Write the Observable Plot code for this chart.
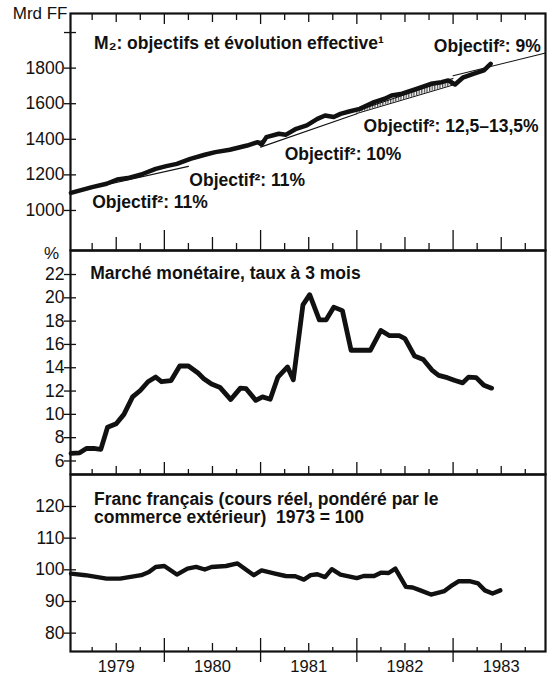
<!DOCTYPE html>
<html>
<head>
<meta charset="utf-8">
<script src="https://cdn.jsdelivr.net/npm/d3@7"></script>
<script src="https://cdn.jsdelivr.net/npm/@observablehq/plot@0.6"></script>
<style>
  body { margin: 0; background: #fff; }
  #chart { position: relative; width: 553px; height: 677px; background: #fff; }
  #chart > svg { position: absolute; left: 0; top: 0; }
</style>
</head>
<body>
<svg width="0" height="0" style="position:absolute">
  <defs>
    <pattern id="hatch" width="2.6" height="6" patternUnits="userSpaceOnUse">
      <line x1="0.7" y1="0" x2="0.7" y2="6" stroke="#000" stroke-width="0.9"></line>
    </pattern>
  </defs>
</svg>
<div id="chart"></div>
<script>
// ---------- data ----------
const years = [1979, 1980, 1981, 1982, 1983];
const xDomain = [1979.025, 1983.96];

// Panel 1: M2 (Mrd FF), actual evolution
const m2Date = [1979.03, 1979.25, 1979.40, 1979.51, 1979.62, 1979.76, 1979.91, 1980.02, 1980.13, 1980.27,
  1980.42, 1980.53, 1980.68, 1980.86, 1980.97, 1981.01, 1981.06, 1981.19, 1981.26, 1981.37,
  1981.48, 1981.59, 1981.67, 1981.76, 1981.83, 1981.92, 1982.03, 1982.18, 1982.29, 1982.36,
  1982.47, 1982.62, 1982.77, 1982.88, 1982.95, 1983.02, 1983.10, 1983.21, 1983.32, 1983.39];
const m2Value = [1099, 1131, 1150, 1174, 1182, 1202, 1234, 1249, 1262, 1290,
  1313, 1328, 1341, 1365, 1384, 1371, 1412, 1431, 1425, 1459,
  1478, 1515, 1534, 1525, 1543, 1556, 1571, 1609, 1628, 1646,
  1656, 1684, 1712, 1721, 1731, 1708, 1746, 1768, 1787, 1824];

// Panel 1: target lines (objectifs)
const targetId    = ["1979", "1979", "1980", "1980", "1981", "1981", "1983", "1983"];
const targetDate  = [1979.025, 1980.25, 1980.0, 1981.03, 1981.0, 1982.0, 1983.0, 1983.96];
const targetValue = [1100, 1248, 1245, 1395, 1356, 1544, 1757, 1885];

// Panel 1: 1982 target corridor (12,5–13,5 %)
const corridorDate = [1982.0, 1983.0];
const corridorLow  = [1545, 1705];
const corridorHigh = [1560, 1742];

const m2Ticks = [1000, 1200, 1400, 1600, 1800];
const m2MinorTicks = [2000];

const m2LabelText  = ["M\u2082: objectifs et \u00e9volution effective\u00b9", "Objectif\u00b2: 11%", "Objectif\u00b2: 11%",
  "Objectif\u00b2: 10%", "Objectif\u00b2: 12,5\u201313,5%", "Objectif\u00b2: 9%"];
const m2LabelDate  = [1979.27, 1979.25, 1980.26, 1981.25, 1982.07, 1982.80];
const m2LabelValue = [1937, 1047, 1169, 1315, 1472, 1922];

// Panel 2: money market, 3-month rate (%)
const rateDate = [1979.03, 1979.12, 1979.19, 1979.28, 1979.34, 1979.41, 1979.50, 1979.58, 1979.67, 1979.75,
  1979.83, 1979.91, 1979.97, 1980.07, 1980.16, 1980.25, 1980.35, 1980.41, 1980.49, 1980.58,
  1980.69, 1980.79, 1980.85, 1980.95, 1981.02, 1981.10, 1981.18, 1981.28, 1981.34, 1981.44,
  1981.51, 1981.61, 1981.68, 1981.76, 1981.85, 1981.94, 1982.14, 1982.25, 1982.34, 1982.44,
  1982.50, 1982.60, 1982.69, 1982.78, 1982.85, 1982.94, 1983.02, 1983.10, 1983.16, 1983.24,
  1983.32, 1983.40];
const rateValue = [6.66, 6.7, 7.07, 7.07, 7.0, 8.9, 9.2, 10.0, 11.5, 12.05,
  12.8, 13.2, 12.8, 12.9, 14.15, 14.15, 13.55, 13.06, 12.6, 12.3,
  11.27, 12.25, 12.2, 11.2, 11.5, 11.3, 13.2, 14.07, 12.97, 19.4,
  20.27, 18.1, 18.1, 19.2, 18.9, 15.5, 15.5, 17.2, 16.75, 16.75,
  16.5, 15.0, 14.7, 13.8, 13.35, 13.15, 12.9, 12.7, 13.2, 13.15,
  12.5, 12.25];
const rateTicks = [6, 8, 10, 12, 14, 16, 18, 20, 22];
const rateTitle = ["March\u00e9 mon\u00e9taire, taux \u00e0 3 mois"];
const rateTitleDate = [1979.23];
const rateTitleValue = [22.1];

// Panel 3: French franc, real effective rate (1973 = 100)
const francDate = [1979.03, 1979.18, 1979.40, 1979.54, 1979.76, 1979.84, 1979.91, 1980.00, 1980.13, 1980.24,
  1980.33, 1980.42, 1980.49, 1980.64, 1980.76, 1980.93, 1981.01, 1981.15, 1981.26, 1981.36,
  1981.45, 1981.52, 1981.59, 1981.67, 1981.74, 1981.83, 1982.00, 1982.07, 1982.18, 1982.25,
  1982.33, 1982.40, 1982.51, 1982.58, 1982.66, 1982.77, 1982.91, 1982.99, 1983.06, 1983.17,
  1983.26, 1983.33, 1983.41, 1983.49];
const francValue = [98.8, 98.3, 97.2, 97.2, 98.3, 99.3, 100.9, 101.2, 98.5, 100.4,
  100.9, 100.1, 100.9, 101.2, 102.0, 98.3, 99.8, 98.8, 98.05, 97.95,
  96.9, 98.3, 98.6, 97.7, 100.2, 98.5, 97.4, 98.05, 98.05, 99.1,
  99.0, 100.4, 94.6, 94.4, 93.5, 92.2, 93.3, 95.1, 96.4, 96.4,
  95.7, 93.5, 92.5, 93.5];
const francTicks = [80, 90, 100, 110, 120];
const francTitle = ["Franc fran\u00e7ais (cours r\u00e9el, pond\u00e9r\u00e9 par le", "commerce ext\u00e9rieur)  1973 = 100"];
const francTitleDate = [1979.27, 1979.27];
const francTitleValue = [122.2, 116.5];

// ---------- derived tick positions ----------
const yearTicks = years.slice(1);
const halfTicks = years.map(y => y + 0.5);
const quarterTicks = years.flatMap(y => [y + 0.25, y + 0.75]);

// ---------- helpers ----------
const W = 553, H = 677, ML = 70, MR = 8;
const FONT = "'Liberation Sans', Arial, Helvetica, sans-serif";
const INK = "#111";
const TITLE_SIZE = 17.5;
const zip = (xs, ys) => xs.map((x, i) => ({date: x, value: ys[i]}));

function xTicks(anchor, ticks, size, extra = {}) {
  return Plot.axisX({anchor, ticks, tickSize: size, fill: "none", label: null, stroke: INK, strokeWidth: 1.3, ...extra});
}
function yAxis(ticks, fmt) {
  return [
    Plot.axisY({ticks, tickSize: 12, dx: 6, tickPadding: 0, tickFormat: fmt, label: null,
      stroke: INK, strokeWidth: 1.3, fill: INK, fontSize: 17.5})
  ];
}
function base(top, bottom, yDomain, marks) {
  return Plot.plot({
    width: W, height: H,
    marginLeft: ML, marginRight: MR, marginTop: top, marginBottom: H - bottom,
    x: {domain: xDomain, label: null},
    y: {domain: yDomain, label: null},
    style: {fontFamily: FONT, fontSize: "17px", background: "transparent", color: INK, overflow: "visible"},
    marks
  });
}

// ---------- panel 1 ----------
const m2 = zip(m2Date, m2Value);
const targets = targetDate.map((d, i) => ({date: d, value: targetValue[i], id: targetId[i]}));
const corridor = corridorDate.map((d, i) => ({date: d, low: corridorLow[i], high: corridorHigh[i]}));
const m2Labels = m2LabelText.map((t, i) => ({text: t, date: m2LabelDate[i], value: m2LabelValue[i]}));

const p1 = base(13, 250, [775, 2107], [
  Plot.areaY(corridor, {x: "date", y1: "low", y2: "high", fill: "url(#hatch)"}),
  Plot.line(corridor, {x: "date", y: "low", stroke: INK, strokeWidth: 1}),
  Plot.line(corridor, {x: "date", y: "high", stroke: INK, strokeWidth: 1}),
  Plot.line(targets, {x: "date", y: "value", z: "id", stroke: INK, strokeWidth: 1.1}),
  Plot.line(m2, {x: "date", y: "value", stroke: INK, strokeWidth: 4.5, strokeLinejoin: "round", strokeLinecap: "round"}),
  Plot.text(m2Labels, {x: "date", y: "value", text: "text", textAnchor: "start", fontSize: TITLE_SIZE, fontWeight: "bold", fill: INK}),
  Plot.text(["Mrd FF"], {frameAnchor: "top-left", textAnchor: "end", lineAnchor: "middle", dx: -3, fontSize: 17, fill: INK}),
  ...yAxis(m2Ticks, d => String(d)),
  Plot.axisY({ticks: m2MinorTicks, tickSize: 12, dx: 6, fill: "none", label: null, stroke: INK, strokeWidth: 1.3}),
  xTicks("top", yearTicks, -10), xTicks("top", halfTicks, -8), xTicks("top", quarterTicks, -6),
  xTicks("bottom", yearTicks, -20), xTicks("bottom", halfTicks, -13), xTicks("bottom", quarterTicks, -7),
  Plot.frame({stroke: INK, strokeWidth: 2.2})
]);

// ---------- panel 2 ----------
const rate = zip(rateDate, rateValue);
const rateLabels = rateTitle.map((t, i) => ({text: t, date: rateTitleDate[i], value: rateTitleValue[i]}));
const p2 = base(250, 474, [4.84, 24.06], [
  Plot.line(rate, {x: "date", y: "value", stroke: INK, strokeWidth: 4.8, strokeLinejoin: "round", strokeLinecap: "round"}),
  Plot.text(rateLabels, {x: "date", y: "value", text: "text", textAnchor: "start", fontSize: TITLE_SIZE, fontWeight: "bold", fill: INK}),
  Plot.text(["%"], {frameAnchor: "top-left", textAnchor: "middle", lineAnchor: "middle", dx: -19, dy: 3, fontSize: 17, fill: INK}),
  ...yAxis(rateTicks, d => String(d)),
  xTicks("bottom", yearTicks, -12), xTicks("bottom", halfTicks, -8), xTicks("bottom", quarterTicks, -5),
  Plot.frame({stroke: INK, strokeWidth: 2.2})
]);

// ---------- panel 3 ----------
const franc = zip(francDate, francValue);
const francLabels = francTitle.map((t, i) => ({text: t, date: francTitleDate[i], value: francTitleValue[i]}));
const p3 = base(474, 651, [74.2, 130.1], [
  Plot.line(franc, {x: "date", y: "value", stroke: INK, strokeWidth: 4.4, strokeLinejoin: "round", strokeLinecap: "round"}),
  Plot.text(francLabels, {x: "date", y: "value", text: "text", textAnchor: "start", fontSize: TITLE_SIZE, fontWeight: "bold", fill: INK}),
  ...yAxis(francTicks, d => String(d)),
  xTicks("bottom", yearTicks, -13), xTicks("bottom", yearTicks, 11),
  xTicks("bottom", halfTicks, -8), xTicks("bottom", quarterTicks, -4),
  Plot.axisX({anchor: "bottom", ticks: halfTicks, tickSize: 0, tickPadding: 9, label: null,
    tickFormat: d => String(Math.floor(d)), fontSize: 16.5, fill: INK}),
  Plot.frame({stroke: INK, strokeWidth: 2.2})
]);

const chart = document.getElementById("chart");
chart.append(p3, p2, p1);
</script>
</body>
</html>
